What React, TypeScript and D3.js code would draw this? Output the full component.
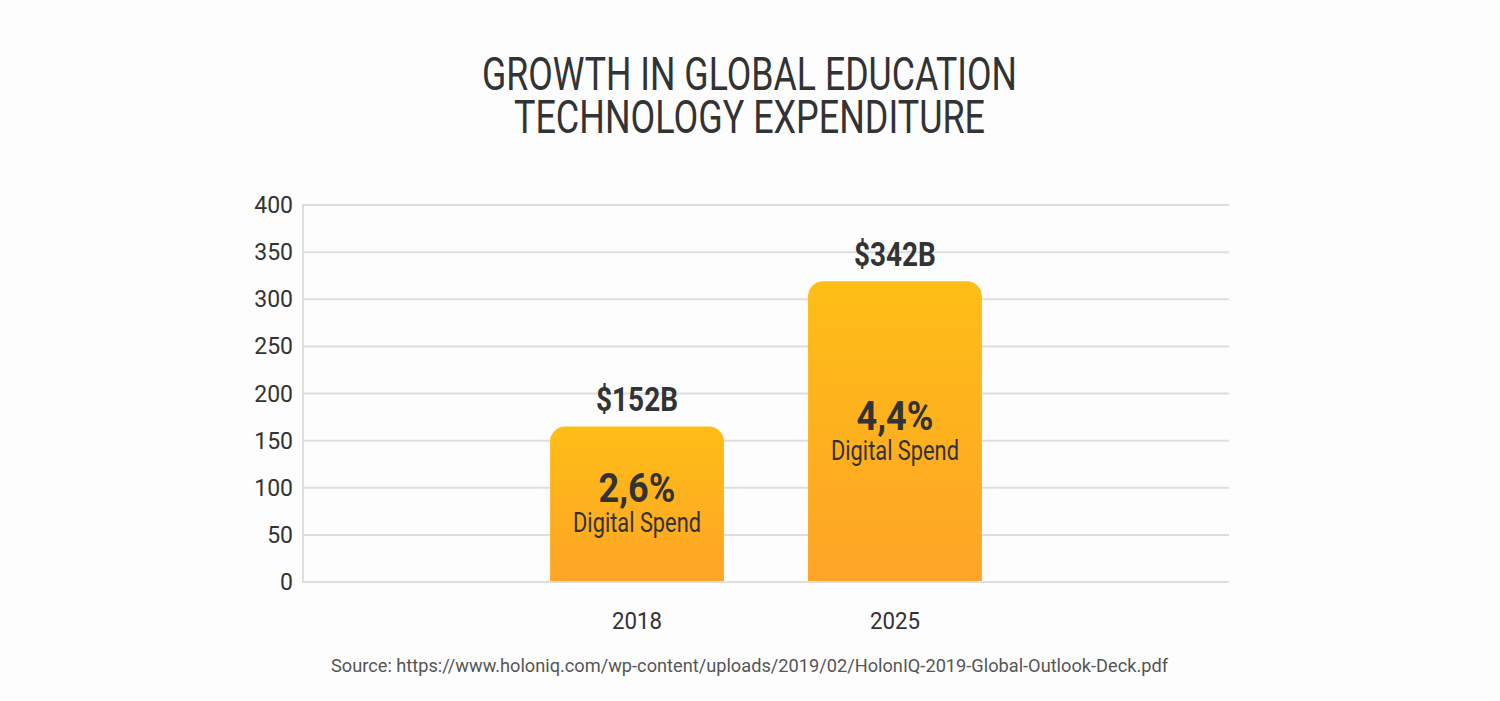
import React from "react";
import * as d3 from "d3";

const categories = ["2018", "2025"];
const barValues = [165, 319];
const valueLabels = ["$152B", "$342B"];
const shareLabels = ["2,6%", "4,4%"];
const shareCaption = "Digital Spend";
const yTicks = [0, 50, 100, 150, 200, 250, 300, 350, 400];
const titleLines = ["GROWTH IN GLOBAL EDUCATION", "TECHNOLOGY EXPENDITURE"];
const sourceText =
  "Source: https://www.holoniq.com/wp-content/uploads/2019/02/HolonIQ-2019-Global-Outlook-Deck.pdf";

const W = 1500;
const H = 701;
const left = 303;
const right = 1229;
const top = 205;
const bottom = 582;
const FONT = "Roboto, 'Noto Sans', sans-serif";

function topRoundedRect(x: number, y: number, w: number, h: number, r: number) {
  const p = d3.path();
  p.moveTo(x, y + h);
  p.lineTo(x, y + r);
  p.arcTo(x, y, x + r, y, r);
  p.lineTo(x + w - r, y);
  p.arcTo(x + w, y, x + w, y + r, r);
  p.lineTo(x + w, y + h);
  p.closePath();
  return p.toString();
}

export default function App() {
  const y = d3.scaleLinear().domain([0, 400]).range([bottom, top]);
  const x = d3
    .scaleBand<string>()
    .domain(categories)
    .range([left, right])
    .paddingInner(0.326)
    .paddingOuter(0.958);
  const bw = x.bandwidth();

  return (
    <svg
      width={W}
      height={H}
      style={{ position: "absolute", left: 0, top: 0, background: "#fdfdfd" }}
      fontFamily={FONT}
    >
      <defs>
        <linearGradient id="barGrad" x1="0" y1="0" x2="0" y2="1">
          <stop offset="0%" stopColor="#FEBE16" />
          <stop offset="100%" stopColor="#FEA427" />
        </linearGradient>
      </defs>
      <rect x={0} y={0} width={W} height={H} fill="#fdfdfd" />

      {/* title */}
      <text x={749.5} y={90} textAnchor="middle" fontSize={46} fill="#333" textLength={535} lengthAdjust="spacingAndGlyphs">
        {titleLines[0]}
      </text>
      <text x={749.5} y={133} textAnchor="middle" fontSize={46} fill="#333" textLength={471} lengthAdjust="spacingAndGlyphs">
        {titleLines[1]}
      </text>

      {/* grid */}
      {yTicks.map((t) => (
        <g key={t}>
          <line x1={left} x2={right} y1={y(t)} y2={y(t)} stroke="#dedede" strokeWidth={2} />
          <text x={293} y={y(t) + 8} textAnchor="end" fontSize={23} fill="#333">
            {t}
          </text>
        </g>
      ))}
      <line x1={left} x2={left} y1={top - 1} y2={bottom + 1} stroke="#dedede" strokeWidth={2} />

      {/* bars */}
      {categories.map((c, i) => {
        const bx = x(c)!;
        const by = y(barValues[i]);
        const bh = y(0) - by;
        const cx = bx + bw / 2;
        const mid = by + bh / 2;
        return (
          <g key={c}>
            <path d={topRoundedRect(bx, by, bw, bh - 1, 15)} fill="url(#barGrad)" />
            <text x={cx} y={by - 15} textAnchor="middle" fontSize={33} fontWeight={700} fill="#333" textLength={82} lengthAdjust="spacingAndGlyphs">
              {valueLabels[i]}
            </text>
            <text x={cx} y={mid - 2} textAnchor="middle" fontSize={41} fontWeight={700} fill="#333" textLength={77} lengthAdjust="spacingAndGlyphs">
              {shareLabels[i]}
            </text>
            <text x={cx} y={mid + 28} textAnchor="middle" fontSize={27} fill="#333" textLength={128} lengthAdjust="spacingAndGlyphs">
              {shareCaption}
            </text>
            <text x={cx} y={629} textAnchor="middle" fontSize={23} fill="#333" textLength={50} lengthAdjust="spacingAndGlyphs">
              {c}
            </text>
          </g>
        );
      })}

      {/* source */}
      <text x={749.5} y={672} textAnchor="middle" fontSize={19} fill="#555" textLength={837} lengthAdjust="spacingAndGlyphs">
        {sourceText}
      </text>
    </svg>
  );
}
